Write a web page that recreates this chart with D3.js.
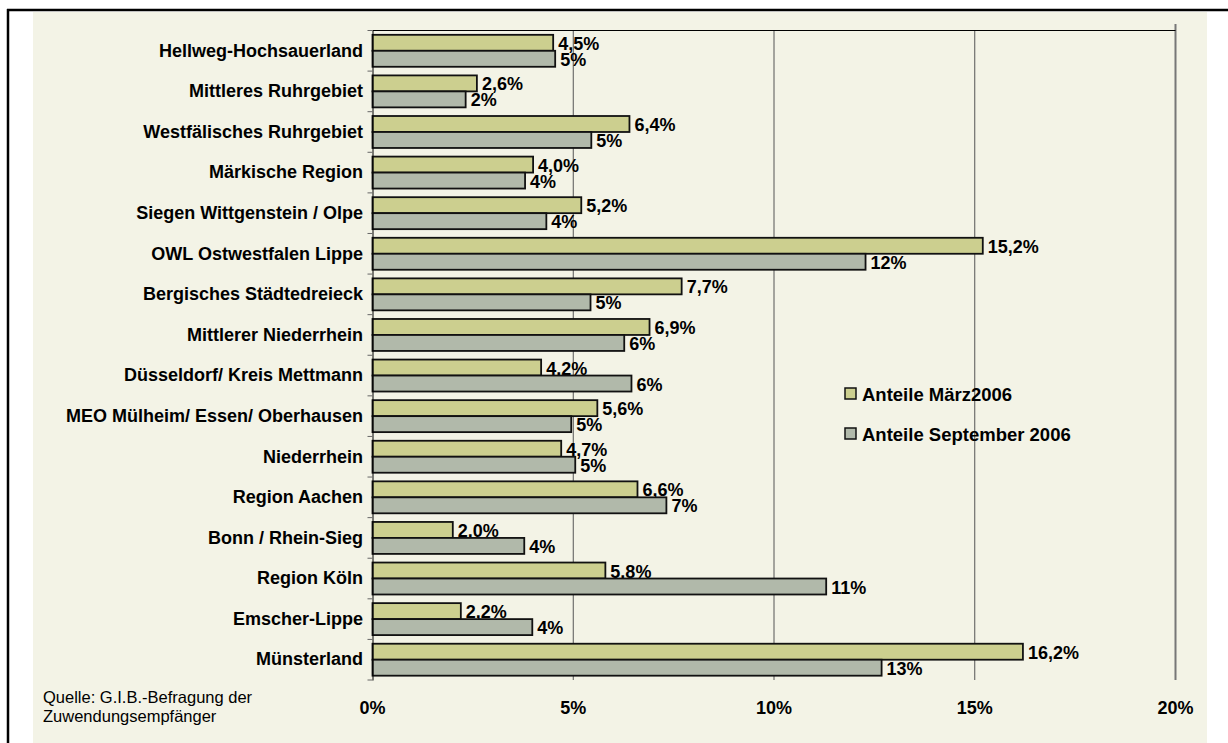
<!DOCTYPE html>
<html>
<head>
<meta charset="utf-8">
<script src="https://cdn.jsdelivr.net/npm/d3@7"></script>
<style>
  body { margin: 0; background: #fff; }
  svg { display: block; }
  text { font-family: "Liberation Sans", Arial, sans-serif; fill: #000; }
</style>
</head>
<body>
<svg id="chart" width="1228" height="743"></svg>
<script>
// data
const regions = [
  "Hellweg-Hochsauerland",
  "Mittleres Ruhrgebiet",
  "Westfälisches Ruhrgebiet",
  "Märkische Region",
  "Siegen Wittgenstein / Olpe",
  "OWL Ostwestfalen Lippe",
  "Bergisches Städtedreieck",
  "Mittlerer Niederrhein",
  "Düsseldorf/ Kreis Mettmann",
  "MEO Mülheim/ Essen/ Oberhausen",
  "Niederrhein",
  "Region Aachen",
  "Bonn / Rhein-Sieg",
  "Region Köln",
  "Emscher-Lippe",
  "Münsterland",
];
const march2006 = [4.5, 2.6, 6.4, 4.0, 5.2, 15.2, 7.7, 6.9, 4.2, 5.6, 4.7, 6.6, 2.0, 5.8, 2.2, 16.2];
const september2006 = [4.55, 2.32, 5.45, 3.8, 4.33, 12.28, 5.43, 6.27, 6.45, 4.95, 5.05, 7.32, 3.78, 11.3, 3.98, 12.68];
const seriesNames = ["Anteile März2006", "Anteile September 2006"];
const xTicks = [0, 5, 10, 15, 20];
const sourceLines = ["Quelle: G.I.B.-Befragung der", "Zuwendungsempfänger"];

const colors = ["#cccf8f", "#b1b9aa"];
const de = d3.formatLocale({ decimal: ",", thousands: ".", grouping: [3], currency: ["", " €"] });
const formats = [(v) => de.format(".1f")(v) + "%", (v) => de.format(".0f")(v) + "%"];

const series = [
  { name: seriesNames[0], values: march2006, color: colors[0], format: formats[0] },
  { name: seriesNames[1], values: september2006, color: colors[1], format: formats[1] },
];

const svg = d3.select("#chart");

/** frame and background */
svg.append("rect").attr("x", 33).attr("y", 12).attr("width", 1174).attr("height", 731).attr("fill", "#f3f3e6");
svg.append("line").attr("x1", 7).attr("x2", 1228).attr("y1", 10).attr("y2", 10).attr("stroke", "#000").attr("stroke-width", 2.5);
svg.append("line").attr("x1", 8).attr("x2", 8).attr("y1", 9).attr("y2", 743).attr("stroke", "#000").attr("stroke-width", 2.5);

/** scales */
const x = d3.scaleLinear().domain([0, 20]).range([372.5, 1175.5]);
const y = d3.scaleBand().domain(regions).range([30.5, 680]);
const sub = d3.scaleBand().domain([0, 1]).range([0, y.bandwidth()]).paddingOuter(0.27);

/** gridlines */
svg.append("g")
  .selectAll("line")
  .data(xTicks.slice(1))
  .join("line")
  .attr("x1", (d) => x(d))
  .attr("x2", (d) => x(d))
  .attr("y1", (d) => (d === 20 ? 24 : 30.5))
  .attr("y2", 680)
  .attr("stroke", (d) => (d === 20 ? "#777" : "#555"))
  .attr("stroke-width", (d) => (d === 20 ? 2 : 1));

/** top border of plot */
svg.append("line").attr("x1", 372.5).attr("x2", 1175.5).attr("y1", 30.5).attr("y2", 30.5).attr("stroke", "#000");

/** bars */
series.forEach((s, i) => {
  svg.append("g")
    .selectAll("rect")
    .data(regions)
    .join("rect")
    .attr("x", x(0))
    .attr("y", (d) => y(d) + sub(i))
    .attr("width", (d, j) => x(s.values[j]) - x(0))
    .attr("height", sub.bandwidth())
    .attr("fill", s.color)
    .attr("stroke", "#111")
    .attr("stroke-width", 1.8);

  svg.append("g")
    .selectAll("text")
    .data(regions)
    .join("text")
    .attr("x", (d, j) => x(s.values[j]) + 5)
    .attr("y", (d) => y(d) + sub(i) + sub.bandwidth() / 2 + 1)
    .attr("dominant-baseline", "central")
    .attr("font-size", 18)
    .attr("font-weight", "bold")
    .text((d, j) => s.format(s.values[j]));
});

/** y axis */
const yAxis = svg.append("g").attr("transform", `translate(${x(0)},0)`)
  .call(d3.axisLeft(y).tickSize(0).tickPadding(9.5));
yAxis.select(".domain").attr("stroke", "#000").attr("stroke-width", 1);
yAxis.selectAll("text")
  .attr("font-size", 18)
  .attr("font-weight", "bold")
  .attr("font-family", "Liberation Sans, Arial, sans-serif");
/** boundary ticks */
svg.append("g")
  .selectAll("line")
  .data([...regions.map((d) => y(d)), 680])
  .join("line")
  .attr("x1", x(0) - 5)
  .attr("x2", x(0))
  .attr("y1", (d) => d)
  .attr("y2", (d) => d)
  .attr("stroke", "#666");

/** x axis labels */
svg.append("g")
  .selectAll("text")
  .data(xTicks)
  .join("text")
  .attr("x", (d) => x(d))
  .attr("y", 708)
  .attr("text-anchor", "middle")
  .attr("dominant-baseline", "central")
  .attr("font-size", 18)
  .attr("font-weight", "bold")
  .text((d) => d + "%");

/** legend */
const legend = svg.append("g")
  .selectAll("g")
  .data(series)
  .join("g")
  .attr("transform", (d, i) => `translate(845,${388 + i * 40})`);
legend.append("rect").attr("width", 11).attr("height", 11)
  .attr("fill", (d) => d.color).attr("stroke", "#111").attr("stroke-width", 1.5);
legend.append("text")
  .attr("x", 17).attr("y", 6.5)
  .attr("dominant-baseline", "central")
  .attr("font-size", 18.5)
  .attr("font-weight", "bold")
  .text((d) => d.name);

/** source note */
svg.append("g")
  .selectAll("text")
  .data(sourceLines)
  .join("text")
  .attr("x", 43)
  .attr("y", (d, i) => 703 + i * 19)
  .attr("font-size", 16.5)
  .text((d) => d);
</script>
</body>
</html>
